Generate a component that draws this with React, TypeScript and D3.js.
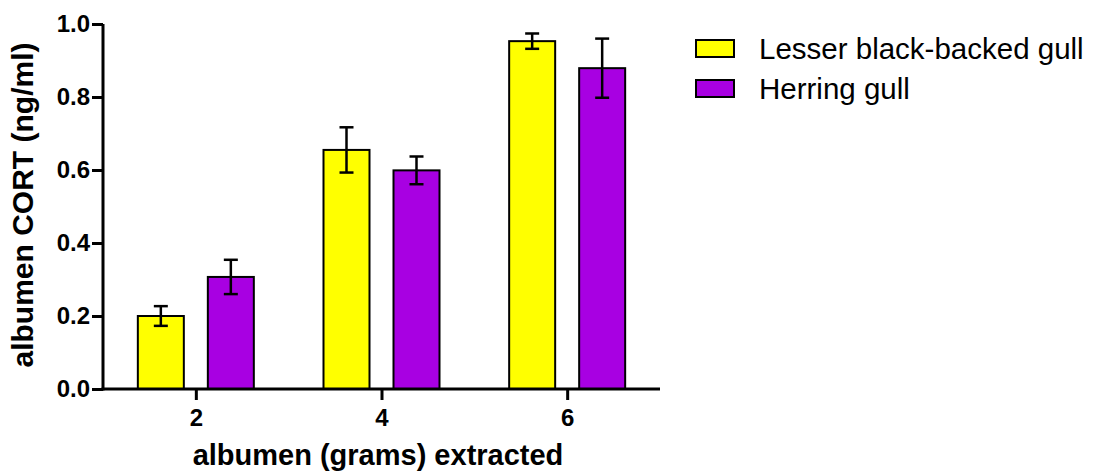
import { useRef, useEffect } from "react";
import * as d3 from "d3";

// grams of albumen extracted
const grams = [2, 4, 6];
const seriesNames = ["Lesser black-backed gull", "Herring gull"];
const seriesColors = ["#ffff00", "#a800e2"];
// mean CORT (ng/ml) and SEM
const lbbgMeans = [0.2, 0.655, 0.953];
const lbbgErr = [0.027, 0.062, 0.021];
const hgMeans = [0.307, 0.599, 0.879];
const hgErr = [0.047, 0.038, 0.081];
const yTicks = [0, 0.2, 0.4, 0.6, 0.8, 1.0];

const W = 1093;
const H = 475;

const App = () => {
  const ref = useRef<SVGSVGElement | null>(null);

  useEffect(() => {
    const svg = d3.select(ref.current);
    svg.selectAll("*").remove();
    const font = "'Liberation Sans', Arial, sans-serif";

    const x = d3.scaleLinear().domain([1, 7]).range([103, 660]);
    const y = d3.scaleLinear().domain([0, 1]).range([389, 24]);
    const barW = 46;
    const offset = 35;

    const series = [
      { name: seriesNames[0], color: seriesColors[0], means: lbbgMeans, err: lbbgErr, dx: -offset },
      { name: seriesNames[1], color: seriesColors[1], means: hgMeans, err: hgErr, dx: offset },
    ];

    // bars
    series.forEach((s) => {
      const g = svg.append("g");
      g.selectAll("rect")
        .data(grams)
        .enter()
        .append("rect")
        .attr("x", (d) => x(d) + s.dx - barW / 2)
        .attr("y", (d, i) => y(s.means[i]))
        .attr("width", barW)
        .attr("height", (d, i) => y(0) - y(s.means[i]))
        .attr("fill", s.color)
        .attr("stroke", "#000")
        .attr("stroke-width", 2);

      // error bars
      grams.forEach((d, i) => {
        const cx = x(d) + s.dx;
        const hi = y(s.means[i] + s.err[i]);
        const lo = y(s.means[i] - s.err[i]);
        g.append("line").attr("x1", cx).attr("x2", cx).attr("y1", hi).attr("y2", lo)
          .attr("stroke", "#000").attr("stroke-width", 2.5);
        [hi, lo].forEach((yy) => {
          g.append("line").attr("x1", cx - 7).attr("x2", cx + 7).attr("y1", yy).attr("y2", yy)
            .attr("stroke", "#000").attr("stroke-width", 2.5);
        });
      });
    });

    // y axis
    const yAxis = svg.append("g").attr("transform", `translate(${x(1)},0)`)
      .call(d3.axisLeft(y).tickValues(yTicks).tickFormat(d3.format(".1f")).tickSize(11).tickPadding(2));
    yAxis.select(".domain").attr("stroke-width", 3).attr("d", `M0,${y(0) + 1.5}V${y(1)}`);
    yAxis.selectAll(".tick line").attr("stroke-width", 3);
    yAxis.selectAll("text").attr("font-family", font).attr("font-size", 24).attr("font-weight", "bold").attr("fill", "#000");

    // x axis
    const xAxis = svg.append("g").attr("transform", `translate(0,${y(0)})`)
      .call(d3.axisBottom(x).tickValues(grams).tickFormat(d3.format("d")).tickSize(11).tickPadding(9));
    xAxis.select(".domain").attr("stroke-width", 3).attr("d", `M${x(1) - 1.5},0H${x(7)}`);
    xAxis.selectAll(".tick line").attr("stroke-width", 3);
    xAxis.selectAll("text").attr("font-family", font).attr("font-size", 24).attr("font-weight", "bold").attr("fill", "#000");

    // axis titles
    svg.append("text")
      .attr("x", 378).attr("y", 465)
      .attr("text-anchor", "middle")
      .attr("font-family", font).attr("font-size", 29).attr("font-weight", "bold")
      .text("albumen (grams) extracted");
    svg.append("text")
      .attr("transform", "translate(33,205) rotate(-90)")
      .attr("text-anchor", "middle")
      .attr("font-family", font).attr("font-size", 30).attr("font-weight", "bold")
      .text("albumen CORT (ng/ml)");

    // legend
    const legend = svg.append("g").attr("transform", "translate(696,40)");
    series.forEach((s, i) => {
      legend.append("rect").attr("x", 0).attr("y", i * 40).attr("width", 38).attr("height", 17)
        .attr("fill", s.color).attr("stroke", "#000").attr("stroke-width", 2);
      legend.append("text").attr("x", 63).attr("y", i * 40 + 8.5)
        .attr("dominant-baseline", "central")
        .attr("font-family", font).attr("font-size", 29.5)
        .text(s.name);
    });
  }, []);

  return (
    <svg
      ref={ref}
      width={W}
      height={H}
      style={{ display: "block", position: "absolute", left: 0, top: 0, background: "#fff" }}
    />
  );
};

export default App;
